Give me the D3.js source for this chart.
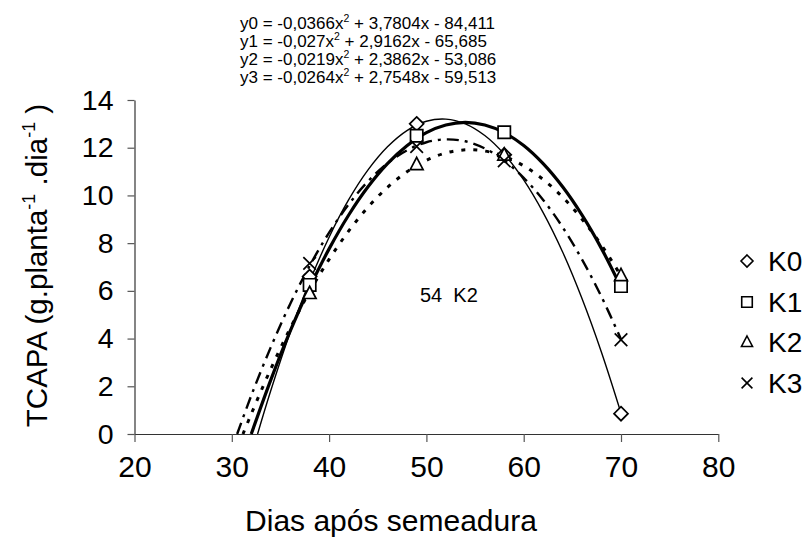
<!DOCTYPE html>
<html><head><meta charset="utf-8">
<script src="https://cdn.jsdelivr.net/npm/d3@7"></script>
<style>
html,body{margin:0;padding:0;background:#fff;}
svg text{font-family:"Liberation Sans",Arial,Helvetica,sans-serif;fill:#000;}
</style></head>
<body>
<svg id="chart" width="806" height="539"></svg>
<script>
// ---- data ----
const days = [38, 49, 58, 70];
const seriesNames = ["K0", "K1", "K2", "K3"];
const k0 = [6.6, 13.0, 11.7, 0.85];
const k1 = [6.25, 12.5, 12.65, 6.2];
const k2 = [5.9, 11.3, 11.7, 6.65];
const k3 = [7.15, 12.05, 11.45, 3.95];

// trend curves as seen on the chart (day, value)
const trendDaysK0 = [32.65, 34, 36, 38, 40, 42, 44, 46, 48, 50, 52, 54, 56, 58, 60, 62, 64, 66, 68, 70];
const trendK0 = [0, 1.81, 4.25, 6.39, 8.25, 9.81, 11.07, 12.04, 12.72, 13.11, 13.20, 13.00, 12.51, 11.73, 10.65, 9.28, 7.63, 5.67, 3.42, 0.88];
const trendDaysK1 = [32.0, 34, 36, 38, 40, 42, 44, 46, 48, 50, 52, 54, 56, 58, 60, 62, 64, 66, 68, 70];
const trendK1 = [0, 2.26, 4.31, 6.14, 7.76, 9.17, 10.36, 11.33, 12.08, 12.63, 12.95, 13.06, 12.95, 12.63, 12.09, 11.33, 10.36, 9.17, 7.77, 6.15];
const trendDaysK2 = [31.15, 32, 34, 36, 38, 40, 42, 44, 46, 48, 50, 52, 54, 56, 58, 60, 62, 64, 66, 68, 70];
const trendK2 = [0, 0.84, 2.72, 4.43, 5.97, 7.32, 8.50, 9.51, 10.34, 10.99, 11.47, 11.78, 11.91, 11.86, 11.64, 11.24, 10.67, 9.93, 9.00, 7.91, 6.63];
const trendDaysK3 = [30.55, 32, 34, 36, 38, 40, 42, 44, 46, 48, 50, 52, 54, 56, 58, 60, 62, 64, 66, 68, 70];
const trendK3 = [0, 1.61, 3.63, 5.45, 7.05, 8.44, 9.62, 10.59, 11.35, 11.89, 12.23, 12.35, 12.27, 11.97, 11.46, 10.74, 9.81, 8.67, 7.31, 5.75, 3.97];

const xTicks = [20, 30, 40, 50, 60, 70, 80];
const yTicks = [0, 2, 4, 6, 8, 10, 12, 14];
const equations = [
  ["y0 = -0,0366x", " + 3,7804x - 84,411"],
  ["y1 = -0,027x", " + 2,9162x - 65,685"],
  ["y2 = -0,0219x", " + 2,3862x - 53,086"],
  ["y3 = -0,0264x", " + 2,7548x - 59,513"]
];
const annotation = "54  K2";

// ---- drawing ----
const svg = d3.select("#chart");
const x = d3.scaleLinear().domain([20, 80]).range([134.5, 718.3]);
const y = d3.scaleLinear().domain([0, 14]).range([434, 100]);

// axes
const xAxis = svg.append("g").attr("transform", `translate(0,${y(0)})`)
  .call(d3.axisBottom(x).tickValues(xTicks).tickSize(8).tickSizeOuter(0).tickPadding(6));
xAxis.select(".domain").attr("stroke", "#333").attr("stroke-width", 1.2);
xAxis.selectAll(".tick line").attr("stroke", "#555").attr("stroke-width", 1.2);
xAxis.selectAll(".tick text").attr("font-size", 30).attr("fill", "#000")
  .attr("font-family", "Liberation Sans, Arial, sans-serif").attr("dy", "0.95em");

const yAxis = svg.append("g").attr("transform", `translate(${x(20)},0)`)
  .call(d3.axisLeft(y).tickValues(yTicks).tickSize(7).tickSizeOuter(0).tickPadding(14));
yAxis.select(".domain").attr("stroke", "#333").attr("stroke-width", 1.2);
yAxis.selectAll(".tick line").attr("stroke", "#555").attr("stroke-width", 1.2);
yAxis.selectAll(".tick text").attr("font-size", 28.5).attr("fill", "#000")
  .attr("font-family", "Liberation Sans, Arial, sans-serif");

// trend curves
const line = d3.line().x(d => x(d[0])).y(d => y(d[1])).curve(d3.curveCatmullRom);
const trends = [
  {dx: trendDaysK0, v: trendK0, w: 1.4, dash: null},
  {dx: trendDaysK1, v: trendK1, w: 3.2, dash: null},
  {dx: trendDaysK2, v: trendK2, w: 3, dash: "4,8"},
  {dx: trendDaysK3, v: trendK3, w: 2.4, dash: "12,6,3,6"}
];
trends.forEach(t => {
  svg.append("path")
    .datum(t.dx.map((d, i) => [d, t.v[i]]))
    .attr("d", line)
    .attr("fill", "none")
    .attr("stroke", "#000")
    .attr("stroke-width", t.w)
    .attr("stroke-dasharray", t.dash);
});

// marker shapes
function markerPath(type, s) {
  const r = s;
  if (type === 0) return `M0,${-r}L${r},0L0,${r}L${-r},0Z`;
  if (type === 1) { const h = r * 0.88; return `M${-h},${-h}H${h}V${h}H${-h}Z`; }
  if (type === 2) return `M0,${-r}L${r * 0.92},${r * 0.75}L${-r * 0.92},${r * 0.75}Z`;
  const h = r * 0.9; return `M${-h},${-h}L${h},${h}M${-h},${h}L${h},${-h}`;
}

const allSeries = [k0, k1, k2, k3];
allSeries.forEach((vals, si) => {
  svg.append("g").selectAll("path").data(vals).join("path")
    .attr("transform", (d, i) => `translate(${x(days[i])},${y(d)})`)
    .attr("d", markerPath(si, 7))
    .attr("fill", si === 3 ? "none" : "#fff")
    .attr("stroke", "#000")
    .attr("stroke-width", 1.7);
});

// legend
const legY = [261, 302, 342, 383];
seriesNames.forEach((n, i) => {
  svg.append("path")
    .attr("transform", `translate(747,${legY[i]})`)
    .attr("d", markerPath(i, 6))
    .attr("fill", "none").attr("stroke", "#000").attr("stroke-width", 1.6);
  svg.append("text").attr("x", 768).attr("y", legY[i]).attr("dy", "0.36em")
    .attr("font-size", 28).text(n);
});

// equations
equations.forEach((e, i) => {
  const t = svg.append("text").attr("x", 240).attr("y", 29 + i * 18).attr("font-size", 17);
  t.append("tspan").text(e[0]);
  t.append("tspan").attr("font-size", 10.5).attr("dy", -7).text("2");
  t.append("tspan").attr("dy", 7).text(e[1]);
});

// annotation
svg.append("text").attr("x", 420).attr("y", 302).attr("font-size", 20)
  .style("white-space", "pre").text(annotation);

// axis titles
svg.append("text").attr("x", 391).attr("y", 531).attr("text-anchor", "middle")
  .attr("font-size", 30).text("Dias após semeadura");

const yt = svg.append("text").attr("transform", "translate(47,265.5) rotate(-90)")
  .attr("text-anchor", "middle").attr("font-size", 29.5);
yt.append("tspan").text("TCAPA (g.planta");
yt.append("tspan").attr("font-size", 18).attr("dy", -12).text("-1");
yt.append("tspan").attr("dy", 12).text(" .dia");
yt.append("tspan").attr("font-size", 18).attr("dy", -12).text("-1");
yt.append("tspan").attr("dy", 12).text(" )");
</script>
</body></html>
